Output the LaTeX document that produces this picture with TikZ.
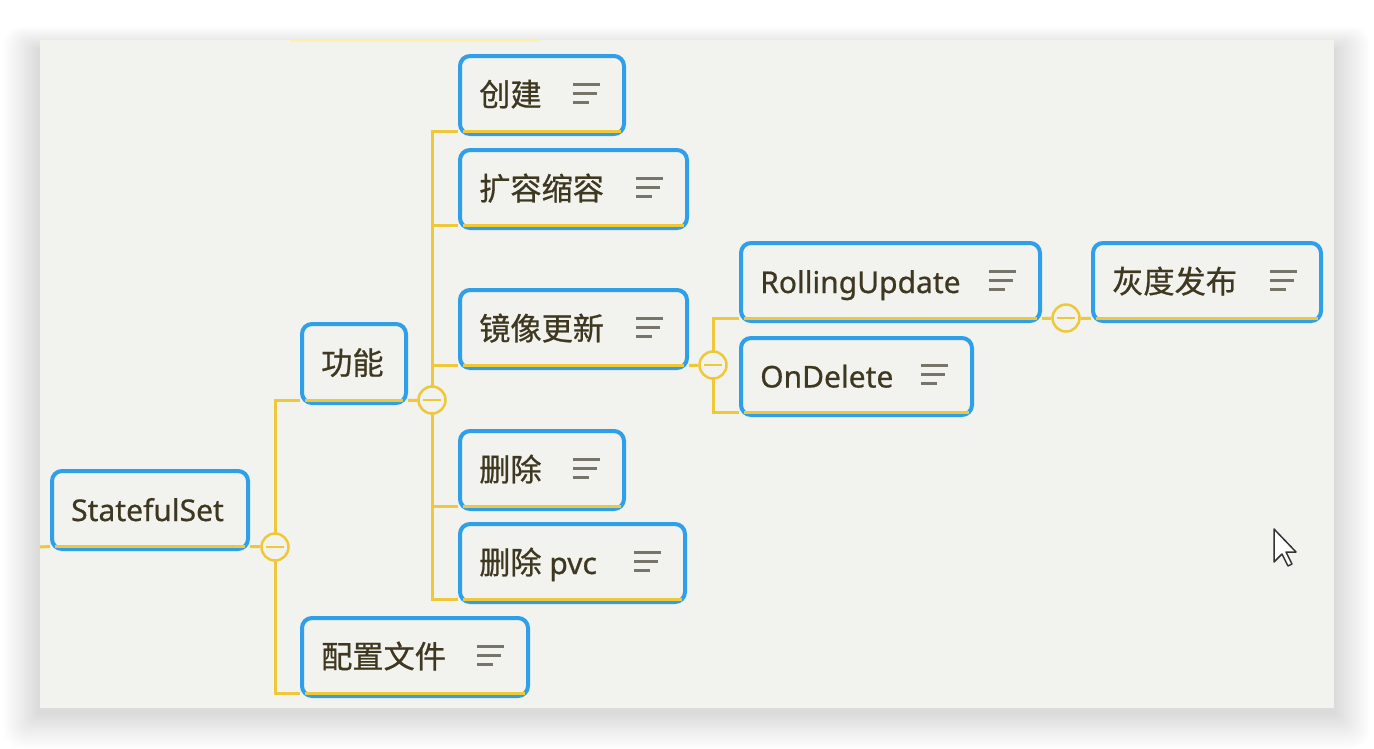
\documentclass[tikz,border=0pt]{standalone}
\usepackage{fontspec}
\setmainfont{Noto Sans}[FakeBold=0.6]
\newfontfamily\cjk{Noto Sans CJK SC}[Scale=1.04,FakeBold=0.7]
\usetikzlibrary{backgrounds}
\definecolor{panel}{HTML}{F2F2EF}
\definecolor{nblue}{HTML}{2E9FE8}
\definecolor{lnyel}{HTML}{EFC83A}
\definecolor{txt}{HTML}{3F3820}
\definecolor{iconc}{HTML}{77746A}
\definecolor{faint}{HTML}{FFF1A8}
\newcommand\mnode[6]{%
  \node[box, minimum width={#4-#2-4}, minimum height={#5-#3-4}] (#1) at ({(#2+#4)/2},{(#3+#5)/2}) {};
  \draw[uline] ([xshift=5pt,yshift=4.5pt]#1.south west) -- ([xshift=-5pt,yshift=4.5pt]#1.south east);
  \node[lbl] (#1-t) at ([xshift=21pt,yshift=-11pt]#1.center -| #1.west) {#6};
}
\newcommand\menuicon[1]{%
  \draw[iconline] ([xshift=-53pt,yshift=11pt]#1.east) -- ++(27,0);
  \draw[iconline] ([xshift=-53pt,yshift=2pt]#1.east) -- ++(24,0);
  \draw[iconline] ([xshift=-53pt,yshift=-7pt]#1.east) -- ++(16,0);
}
\begin{document}
\begin{tikzpicture}[x=1pt,y=-1pt,
  box/.style={draw=nblue, line width=4pt, rounded corners=10pt, fill=panel, inner sep=0pt},
  lbl/.style={anchor=base west, inner sep=0pt, text=txt, font=\fontsize{30}{36}\selectfont},
  link/.style={draw=lnyel, line width=3pt},
  uline/.style={draw=lnyel, line width=3pt},
  ring/.style={circle, draw=lnyel, line width=2.5pt, fill=panel, minimum size=27pt, inner sep=0pt,
    path picture={\draw[lnyel, line width=2.5pt] ([xshift=-9pt]path picture bounding box.center) -- ([xshift=9pt]path picture bounding box.center);}},
  iconline/.style={draw=iconc, line width=3pt}
]
\useasboundingbox (0,0) rectangle (1374,748);
\begin{scope}[on background layer]
\fill[white] (0,0) rectangle (1374,748);
% shadow
\foreach \i in {1,...,18}{
  \fill[black, opacity=0.006, rounded corners=\i pt] ({40-2*\i},{50-1.3*\i}) rectangle ({1334+2*\i},{712+2*\i});
}
\fill[panel] (40,40) rectangle (1334,708);
\draw[faint, line width=1.5pt] (290,41) -- (540,41);
\end{scope}

% nodes
\mnode{SS}{50}{469}{250}{551}{StatefulSet}
\mnode{GN}{300}{322}{408}{405}{\cjk 功能}
\mnode{PZ}{300}{616}{530}{698}{\cjk 配置文件}
\mnode{CJ}{458}{54}{626}{136}{\cjk 创建}
\mnode{KR}{458}{148}{689}{230}{\cjk 扩容缩容}
\mnode{JX}{458}{288}{689}{370}{\cjk 镜像更新}
\mnode{SC}{458}{429}{626}{511}{\cjk 删除}
\mnode{SP}{458}{522}{687}{604}{{\cjk 删除} pvc}
\mnode{RU}{739}{241}{1042}{323}{RollingUpdate}
\mnode{OD}{739}{336}{974}{417}{OnDelete}
\mnode{HD}{1091}{241}{1323}{323}{\cjk 灰度发布}
\foreach \n in {PZ,CJ,KR,JX,SC,SP,RU,OD,HD}{\menuicon{\n}}

% collapse rings
\node[ring] (c1) at (275,547) {};
\node[ring] (c2) at (432,400) {};
\node[ring] (c3) at (713,365) {};
\node[ring] (c4) at (1066,318) {};
\coordinate (lin) at (40,547);

% connectors
\begin{scope}[on background layer]
  \draw[link] (lin) -- ([yshift=4.5pt]SS.south west);
  \draw[link] ([yshift=4.5pt]SS.south east) -- (c1);
  \draw[link] ([yshift=4.5pt]GN.south west) -| (c1.center) |- ([yshift=4.5pt]PZ.south west);
  \draw[link] ([yshift=4.5pt]GN.south east) -- (c2);
  \draw[link] ([yshift=4.5pt]CJ.south west) -| (c2.center) |- ([yshift=4.5pt]SP.south west);
  \draw[link] (c2.center) |- ([yshift=4.5pt]KR.south west);
  \draw[link] (c2.center) |- ([yshift=4.5pt]JX.south west);
  \draw[link] (c2.center) |- ([yshift=4.5pt]SC.south west);
  \draw[link] ([yshift=4.5pt]JX.south east) -- (c3);
  \draw[link] ([yshift=4.5pt]RU.south west) -| (c3.center) |- ([yshift=4.5pt]OD.south west);
  \draw[link] ([yshift=4.5pt]RU.south east) -- (c4) -- ([yshift=4.5pt]HD.south west);
\end{scope}

% cursor
\draw[fill=white, draw=black!80, line width=1.5pt, line join=round]
  (1274,529) -- ++(0,33) -- ++(8,-8) -- ++(6,12) -- ++(4,-2) -- ++(-6,-12) -- ++(10,0) -- cycle;
\end{tikzpicture}
\end{document}
